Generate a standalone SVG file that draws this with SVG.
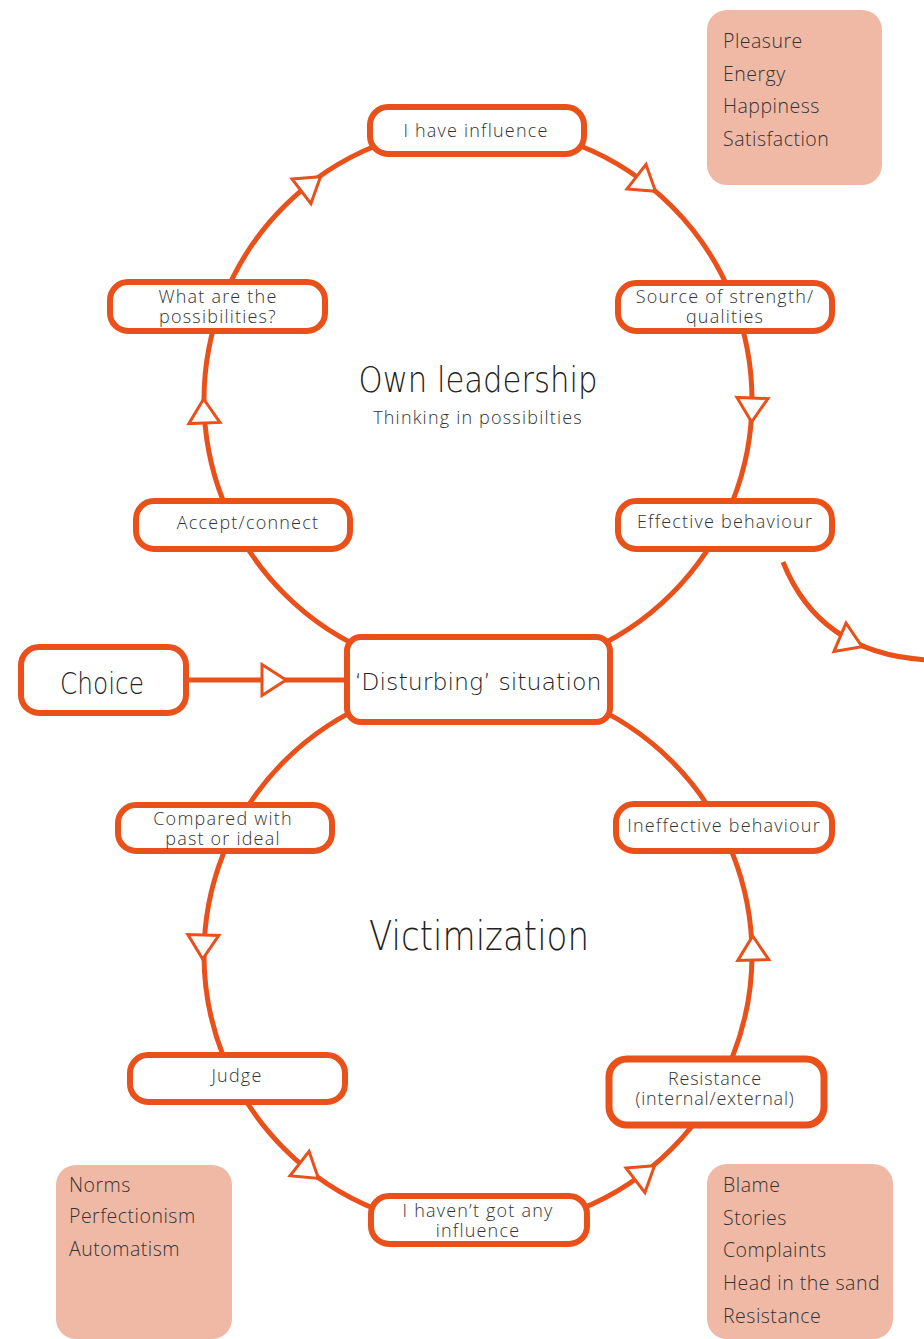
<svg xmlns="http://www.w3.org/2000/svg" xmlns:xlink="http://www.w3.org/1999/xlink" width="924" height="1339" viewBox="0 0 924 1339">
<style>
.ln{fill:none;stroke:#e9501a;stroke-width:5}
.nd{fill:#fff;stroke:#e9501a;stroke-width:6}
.ah{fill:#fff;stroke:#e9501a;stroke-width:3;stroke-linejoin:miter}
.bx{fill:#f0b9a6}
.t{font-family:"Open Sans",Lato,"Liberation Sans",sans-serif;font-weight:300;font-size:18px;letter-spacing:1.2px;fill:#333;text-anchor:middle}
.s{font-family:"Open Sans",Lato,"Liberation Sans",sans-serif;font-weight:300;font-size:19.5px;letter-spacing:0.5px;fill:#333}
.h{font-family:"DejaVu Sans","Liberation Sans",sans-serif;font-weight:200;fill:#222;text-anchor:middle}
</style>
<defs>
<path id="ah" d="M-12,-15.5 L12,0 L-12,15.5 Z"/>
</defs>
<rect width="924" height="1339" fill="#fff"/>
<g id="side-boxes">
<g id="box-positive">
<rect class="bx" x="707" y="10" width="175" height="175" rx="20"/>
<text class="s" x="723" y="48">Pleasure</text>
<text class="s" x="723" y="81">Energy</text>
<text class="s" x="723" y="113">Happiness</text>
<text class="s" x="723" y="146">Satisfaction</text>
</g>
<g id="box-norms">
<rect class="bx" x="56" y="1165" width="176" height="174" rx="20"/>
<text class="s" x="69" y="1192">Norms</text>
<text class="s" x="69" y="1223">Perfectionism</text>
<text class="s" x="69" y="1256">Automatism</text>
</g>
<g id="box-blame">
<rect class="bx" x="707" y="1164" width="186" height="175" rx="20"/>
<text class="s" x="723" y="1192">Blame</text>
<text class="s" x="723" y="1225">Stories</text>
<text class="s" x="723" y="1257">Complaints</text>
<text class="s" x="723" y="1290">Head in the sand</text>
<text class="s" x="723" y="1323">Resistance</text>
</g>
</g>
<g id="connectors">
<circle class="ln" cx="478" cy="400" r="274"/>
<circle class="ln" cx="478" cy="955" r="274"/>
<line class="ln" x1="188" y1="680" x2="345" y2="680"/>
<path class="ln" d="M783,562 Q820,655 930,660"/>
<use class="ah" xlink:href="#ah" href="#ah" transform="translate(311,184) rotate(-37.5)"/>
<use class="ah" xlink:href="#ah" href="#ah" transform="translate(646,184) rotate(37.8)"/>
<use class="ah" xlink:href="#ah" href="#ah" transform="translate(752,410) rotate(92)"/>
<use class="ah" xlink:href="#ah" href="#ah" transform="translate(204,411) rotate(-92)"/>
<use class="ah" xlink:href="#ah" href="#ah" transform="translate(203,947) rotate(91.7)"/>
<use class="ah" xlink:href="#ah" href="#ah" transform="translate(309,1171) rotate(38)"/>
<use class="ah" xlink:href="#ah" href="#ah" transform="translate(645,1173) rotate(-37.5)"/>
<use class="ah" xlink:href="#ah" href="#ah" transform="translate(753,948) rotate(-91.5)"/>
<use class="ah" xlink:href="#ah" href="#ah" transform="translate(274,680)"/>
<use class="ah" xlink:href="#ah" href="#ah" transform="translate(851,642) rotate(23)"/>
</g>
<g id="titles">
<text class="h" x="478" y="392" font-size="36" textLength="239" lengthAdjust="spacingAndGlyphs">Own leadership</text>
<text class="t" x="478" y="424">Thinking in possibilties</text>
<text class="h" x="479" y="950" font-size="40" textLength="220" lengthAdjust="spacingAndGlyphs">Victimization</text>
</g>
<g id="node-influence">
<rect class="nd" x="370" y="107" width="214" height="47" rx="18"/>
<text class="t" x="476" y="137">I have influence</text>
</g>
<g id="node-source">
<rect class="nd" x="618" y="283" width="214" height="48" rx="18"/>
<text class="t" x="725" y="303">Source of strength/</text>
<text class="t" x="725" y="323">qualities</text>
</g>
<g id="node-effective">
<rect class="nd" x="618" y="501" width="214" height="48" rx="18"/>
<text class="t" x="725" y="528">Effective behaviour</text>
</g>
<g id="node-possibilities">
<rect class="nd" x="110" y="282" width="215" height="49" rx="18"/>
<text class="t" x="218" y="303">What are the</text>
<text class="t" x="218" y="323">possibilities?</text>
</g>
<g id="node-accept">
<rect class="nd" x="136" y="501" width="214" height="48" rx="18"/>
<text class="t" x="248" y="529">Accept/connect</text>
</g>
<g id="node-choice">
<rect class="nd" x="21" y="647" width="165" height="66" rx="18"/>
<text class="h" x="102" y="694" font-size="30" textLength="84" lengthAdjust="spacingAndGlyphs">Choice</text>
</g>
<g id="node-disturbing">
<rect class="nd" x="347" y="637" width="263" height="85" rx="14"/>
<text class="h" x="478" y="690" font-size="23" textLength="247" lengthAdjust="spacingAndGlyphs">‘Disturbing’ situation</text>
</g>
<g id="node-compared">
<rect class="nd" x="118" y="805" width="214" height="46" rx="18"/>
<text class="t" x="223" y="825">Compared with</text>
<text class="t" x="223" y="845">past or ideal</text>
</g>
<g id="node-ineffective">
<rect class="nd" x="616" y="804" width="216" height="47" rx="18"/>
<text class="t" x="724" y="832">Ineffective behaviour</text>
</g>
<g id="node-judge">
<rect class="nd" x="130" y="1055" width="215" height="47" rx="18"/>
<text class="t" x="237" y="1082">Judge</text>
</g>
<g id="node-resistance">
<rect class="nd" x="609" y="1059" width="215" height="66" rx="18" style="stroke-width:7"/>
<text class="t" x="715" y="1085" font-size="15.5" style="letter-spacing:0.8px">Resistance</text>
<text class="t" x="715" y="1105" font-size="15.5" style="letter-spacing:0.8px">(internal/external)</text>
</g>
<g id="node-noinfluence">
<rect class="nd" x="371" y="1196" width="216" height="48" rx="18"/>
<text class="t" x="478" y="1217">I haven’t got any</text>
<text class="t" x="478" y="1237">influence</text>
</g>
</svg>
